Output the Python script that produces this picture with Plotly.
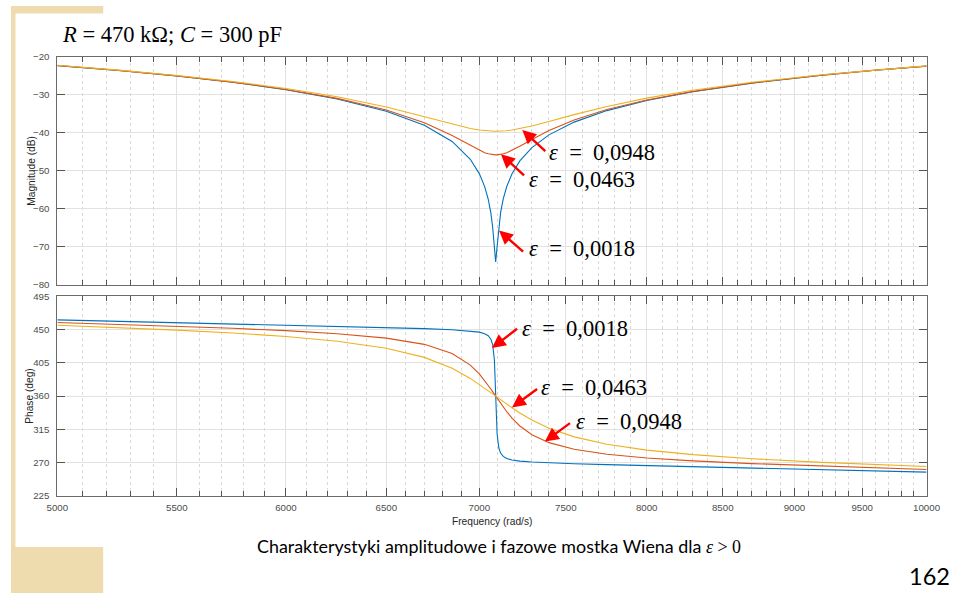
import math
import plotly.graph_objects as go

# Wien bridge response, R = 470 kOhm, C = 300 pF, three bridge imbalances
freq = [5000, 5250, 5500, 5750, 6000, 6250, 6500, 6700, 6850, 6950, 7000, 7030,
        7050, 7065, 7075, 7085, 7092, 7100, 7110, 7120, 7135, 7155, 7185, 7230,
        7300, 7400, 7550, 7750, 8000, 8300, 8700, 9200, 9600, 10000]

mag_0018 = [-22.26, -23.55, -24.99, -26.65, -28.61, -31.04, -34.26, -37.96, -42.24,
            -46.93, -50.71, -54.12, -57.45, -61.14, -64.80, -70.41, -73.98, -70.01,
            -64.56, -60.99, -57.38, -54.11, -50.76, -47.37, -43.85, -40.50, -37.14,
            -34.11, -31.46, -29.14, -26.88, -24.79, -23.49, -22.40]
mag_0463 = [-22.24, -23.52, -24.96, -26.60, -28.53, -30.89, -33.96, -37.30, -40.65,
            -43.31, -44.57, -45.19, -45.49, -45.66, -45.73, -45.77, -45.77, -45.76,
            -45.72, -45.65, -45.49, -45.19, -44.58, -43.49, -41.70, -39.37, -36.58,
            -33.82, -31.30, -29.05, -26.82, -24.76, -23.46, -22.39]
mag_0948 = [-22.18, -23.44, -24.85, -26.44, -28.28, -30.47, -33.14, -35.68, -37.68,
            -38.82, -39.23, -39.40, -39.48, -39.52, -39.54, -39.55, -39.55, -39.55,
            -39.54, -39.52, -39.48, -39.40, -39.23, -38.89, -38.18, -36.99, -35.17,
            -33.02, -30.83, -28.77, -26.65, -24.65, -23.39, -22.33]

ph_0018 = [463.23, 461.34, 459.52, 457.78, 456.08, 454.42, 452.74, 451.27, 449.84,
           448.23, 446.57, 444.50, 441.65, 436.96, 429.76, 408.49, 361.00, 309.27,
           289.65, 282.81, 278.28, 275.49, 273.46, 271.94, 270.68, 269.59, 268.43,
           267.19, 265.83, 264.32, 262.44, 260.25, 258.59, 257.00]
ph_0463 = [459.66, 457.17, 454.58, 451.77, 448.55, 444.48, 438.48, 430.04, 417.66,
           401.96, 389.98, 381.16, 374.68, 369.57, 366.08, 362.55, 360.00, 357.24,
           353.72, 350.26, 345.20, 338.82, 330.19, 319.53, 307.61, 296.96, 287.90,
           281.22, 276.25, 272.33, 268.61, 265.08, 262.73, 260.63]
ph_0948 = [455.81, 452.68, 449.27, 445.38, 440.64, 434.33, 424.83, 412.38, 397.58,
           383.92, 375.93, 370.86, 367.40, 364.78, 363.03, 361.27, 360.00, 358.63,
           356.88, 355.13, 352.54, 349.13, 344.17, 337.17, 327.54, 316.50, 304.75,
           294.70, 286.83, 280.70, 275.16, 270.26, 267.18, 264.56]

x_ticks = [5000, 5500, 6000, 6500, 7000, 7500, 8000, 8500, 9000, 9500, 10000]
x_minor = [f for f in range(5100, 10000, 100) if f % 500 != 0]
mag_ticks = [-80, -70, -60, -50, -40, -30, -20]
ph_ticks = [225, 270, 315, 360, 405, 450, 495]

# arrow labels: (text, head frequency, head value)
mag_labels = [("0,0948", 7244, -39.2), ("0,0463", 7122, -45.6), ("0,0018", 7111, -65.7)]
ph_labels = [("0,0018", 7071, 425.0), ("0,0463", 7185, 344.7), ("0,0948", 7376, 298.5)]

W, H = 957, 598
# the page shows up slightly shifted and shrunk, so place things in that frame
OFF, K = 7.5, 0.977
def px(x):
    return max(0.0, (x - OFF) / K) / W
def py(y):
    return 1 - max(0.0, (y - OFF) / K) / H
def fs(s):
    return round(s / K, 1)

colors = ["#0072BD", "#D95319", "#EDB120"]

fig = go.Figure()
for mag, ph, col in zip([mag_0018, mag_0463, mag_0948], [ph_0018, ph_0463, ph_0948], colors):
    fig.add_trace(go.Scatter(x=freq, y=mag, xaxis="x", yaxis="y", mode="lines",
                             line=dict(color=col, width=1.1), showlegend=False))
    fig.add_trace(go.Scatter(x=freq, y=ph, xaxis="x2", yaxis="y2", mode="lines",
                             line=dict(color=col, width=1.1), showlegend=False))

tickfont = dict(family="Liberation Sans, Arial", size=fs(9.5), color="#4d4d4d")
common_x = dict(
    type="log", range=[math.log10(5000), math.log10(10000)],
    domain=[px(54), px(926)],
    tickmode="array", tickvals=x_ticks, ticktext=[str(v) for v in x_ticks],
    ticks="inside", ticklen=8, tickcolor="#555555", tickwidth=1,
    showline=True, linecolor="#6a6a6a", linewidth=1, mirror="ticks",
    showgrid=True, gridcolor="#e2e2e2", gridwidth=1, zeroline=False,
    tickfont=tickfont, ticklabelstandoff=3,
    minor=dict(tickmode="array", tickvals=x_minor, ticks="inside", ticklen=5,
               tickcolor="#555555", showgrid=True, gridcolor="#d9d9d9", griddash="dot"),
)
common_y = dict(
    ticks="inside", ticklen=8, tickcolor="#555555", tickwidth=1,
    showline=True, linecolor="#6a6a6a", linewidth=1, mirror="ticks",
    showgrid=True, gridcolor="#e2e2e2", gridwidth=1, zeroline=False,
    tickfont=tickfont, ticklabelstandoff=5,
)

fig.update_layout(
    width=W, height=H, margin=dict(l=0, r=0, t=0, b=0),
    paper_bgcolor="white", plot_bgcolor="white",
    xaxis=dict(common_x, anchor="y", showticklabels=False),
    yaxis=dict(common_y, anchor="x", domain=[py(285), py(58.3)], range=[-80, -20],
               tickvals=mag_ticks),
    xaxis2=dict(common_x, anchor="y2"),
    yaxis2=dict(common_y, anchor="x2", domain=[py(495), py(296.5)], range=[225, 495],
                tickvals=ph_ticks),
    hovermode=False,
)

# slide background corners
beige = "#EEDCAE"
for x0, x1, y0, y1 in [(0, 100, 0, 15), (0, 100, 546, 640), (0, 12, 0, 640)]:
    fig.add_shape(type="rect", xref="paper", yref="paper", x0=0, x1=px(x1),
                  y0=max(0, py(y1)), y1=py(y0), fillcolor=beige, line_width=0, layer="below")

serif = "Liberation Serif, Times New Roman, serif"
def text_at(text, x, y, size, family=serif, xanchor="left", angle=0, color="black"):
    return dict(text=text, x=px(x), y=py(y), xref="paper", yref="paper",
                xanchor=xanchor, yanchor="middle", textangle=angle, showarrow=False,
                font=dict(family=family, size=fs(size), color=color))

ann = [text_at("<i>R</i> = 470 kΩ; <i>C</i> = 300 pF", 57, 36, 22)]

arrow = dict(text="", showarrow=True, arrowhead=2, arrowsize=1.15, arrowwidth=2.4,
             arrowcolor="#ff0000")
mag_tails = [(24, 22), (24, 22), (25, 22)]
mag_text_pos = [(545, 153), (525, 180), (525, 249)]
for (lab, f, v), (ax, ay), (tx, ty) in zip(mag_labels, mag_tails, mag_text_pos):
    ann.append(dict(arrow, x=math.log10(f), y=v, xref="x", yref="y", ax=ax / K, ay=ay / K))
    ann.append(text_at("<i>ε</i>\u00a0\u00a0=\u00a0\u00a0" + lab, tx, ty, 22))
ph_tails = [(26, -20), (26, -19), (26, -19)]
ph_text_pos = [(518, 328), (537, 387), (572, 421)]
for (lab, f, v), (ax, ay), (tx, ty) in zip(ph_labels, ph_tails, ph_text_pos):
    ann.append(dict(arrow, x=math.log10(f), y=v, xref="x2", yref="y2", ax=ax / K, ay=ay / K))
    ann.append(text_at("<i>ε</i>\u00a0\u00a0=\u00a0\u00a0" + lab, tx, ty, 22))

sans = "Liberation Sans, Arial"
ann.append(text_at("Magnitude (dB)", 28, 171, 10, sans, "center", -90, "#262626"))
ann.append(text_at("Phase (deg)", 26, 395, 10, sans, "center", -90, "#262626"))
ann.append(text_at("Frequency (rad/s)", 490, 521, 10, sans, "center", 0, "#262626"))

ann.append(text_at("Charakterystyki amplitudowe i fazowe mostka Wiena dla "
                   "<span style='font-family:Liberation Serif'><i>ε</i> &gt; 0</span>",
                   497, 545, 17.5, "Lato, sans-serif", "center"))
ann.append(text_at("162", 929, 575, 23, "Lato, sans-serif", "center"))

fig.update_layout(annotations=ann)
fig.write_html("out.html", config={"displayModeBar": False},
               post_script="document.body.style.margin='0px';"
                           "document.body.style.overflow='hidden';")
